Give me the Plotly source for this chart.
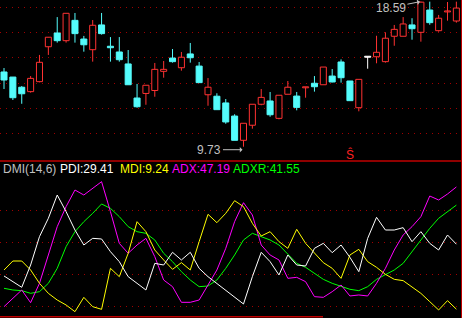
import plotly.graph_objects as go

# ---------------- data ----------------
idx = list(range(52))
opens = [14.29, 13.98, 13.36, 13.09, 13.70, 15.83, 16.67, 16.20, 17.44, 16.30,
         15.65, 17.16, 15.86, 15.51, 14.78, 12.70, 12.98, 13.16, 14.33, 15.14,
         14.55, 15.39, 14.65, 12.90, 12.81, 12.40, 11.60, 10.12, 11.04, 12.32,
         12.52, 11.46, 12.93, 12.82, 13.35, 13.60, 13.51, 14.04, 14.90, 13.74,
         12.11, 15.22, 15.22, 14.92, 16.47, 16.47, 17.16, 16.71, 18.07, 16.81,
         17.98, 17.40]
highs = [14.53, 13.98, 13.43, 14.04, 15.33, 16.42, 17.64, 17.87, 17.89, 16.49,
         17.46, 17.89, 16.42, 16.42, 15.63, 13.56, 13.48, 14.84, 14.96, 15.69,
         15.51, 16.06, 14.90, 13.92, 12.99, 12.64, 11.71, 11.16, 12.32, 13.25,
         13.07, 12.87, 13.74, 13.07, 13.36, 14.04, 14.59, 14.47, 15.06, 13.74,
         13.84, 15.22, 16.50, 16.71, 17.16, 17.64, 17.57, 18.59, 18.58, 17.77,
         18.56, 18.58]
lows = [13.25, 12.58, 12.35, 13.03, 13.66, 15.33, 16.08, 16.08, 16.08, 15.53,
        14.92, 16.57, 14.92, 14.92, 13.51, 12.11, 12.29, 12.78, 13.94, 14.86,
        14.37, 14.86, 13.64, 12.23, 11.99, 11.13, 10.12, 9.73, 10.83, 12.26,
        11.56, 11.40, 12.93, 11.95, 12.72, 13.09, 13.51, 13.66, 13.64, 12.54,
        11.89, 14.49, 14.82, 14.86, 15.89, 16.47, 16.26, 16.14, 17.17, 16.75,
        17.42, 17.30]
closes = [13.80, 12.72, 12.96, 13.90, 14.88, 16.41, 16.20, 17.87, 16.63, 15.95,
          17.14, 16.63, 15.77, 15.04, 13.51, 12.17, 13.48, 14.45, 14.45, 14.92,
          15.19, 15.16, 13.64, 13.36, 11.99, 11.24, 10.12, 11.16, 12.32, 12.74,
          11.68, 12.87, 13.36, 12.13, 13.36, 13.39, 14.59, 13.68, 13.94, 12.54,
          13.84, 15.22, 15.49, 16.35, 16.89, 17.22, 16.93, 18.55, 17.30, 17.57,
          17.99, 18.19]

pdi = [19.54, 17.78, 16.02, 22.95, 31.75, 37.45, 44.69, 39.52, 33.82, 29.16,
       31.23, 31.03, 27.09, 23.99, 19.33, 17.26, 15.19, 23.47, 22.95, 26.89,
       24.51, 26.89, 21.92, 19.33, 17.26, 15.19, 13.12, 10.84, 19.33, 26.89,
       23.99, 19.85, 26.06, 22.95, 22.64, 28.13, 29.68, 26.78, 29.16, 25.33,
       20.88, 31.23, 37.76, 33.82, 33.82, 34.55, 30.20, 33.30, 29.68, 27.61,
       32.27, 29.41]
mdi = [21.40, 24.19, 24.19, 21.40, 17.26, 14.15, 12.08, 10.53, 8.46, 12.91,
       10.01, 9.18, 21.92, 19.33, 26.58, 36.41, 33.30, 27.61, 24.51, 21.61,
       23.68, 21.40, 30.20, 38.69, 36.10, 39.00, 42.93, 41.07, 35.89, 31.96,
       33.30, 30.20, 28.13, 34.03, 29.68, 26.58, 23.68, 21.92, 18.81, 26.06,
       27.82, 23.99, 22.23, 20.05, 18.50, 18.09, 16.22, 14.15, 11.57, 8.98,
       11.88, 9.24]
adx = [10.01, 12.60, 15.19, 11.25, 17.26, 26.06, 34.86, 41.07, 46.24, 44.69,
       46.76, 48.83, 39.52, 29.68, 26.58, 29.16, 31.23, 25.54, 18.29, 16.22,
       11.36, 11.36, 12.08, 16.74, 21.40, 28.13, 36.41, 42.31, 38.48, 29.16,
       26.06, 24.51, 18.81, 19.12, 17.78, 13.12, 12.91, 14.67, 16.74, 13.33,
       13.64, 13.33, 17.26, 21.92, 27.61, 32.27, 34.86, 37.96, 44.38, 43.14,
       45.00, 47.19]
adxr = [15.71, 15.19, 14.98, 14.15, 14.67, 17.26, 21.92, 28.65, 33.30, 36.41,
        39.00, 41.90, 40.55, 37.96, 34.86, 33.30, 32.79, 30.72, 26.58, 23.99,
        20.88, 18.29, 16.22, 16.43, 18.29, 21.92, 26.06, 30.72, 32.79, 31.75,
        30.72, 29.16, 26.37, 23.47, 22.23, 20.36, 18.50, 17.26, 16.43, 15.40,
        14.98, 16.22, 18.50, 19.85, 21.40, 23.47, 27.09, 30.72, 34.34, 37.45,
        39.52, 41.55]

dmi_grid = [10, 20, 30, 40]
label_items = [("DMI(14,6)", "#c0c0c0"), ("PDI:29.41", "#ffffff"),
               ("MDI:9.24", "#ffff00"), ("ADX:47.19", "#ff00ff"),
               ("ADXR:41.55", "#00ff00")]
low_label = "9.73"
high_label = "18.59"

# ---------------- styling / layout constants ----------------
W, H = 462, 318
SPLIT = 161  # px from top where the two panels meet
UP, DN, FLAT = "#ff3232", "#54fcfc", "#ffffff"
GRID = "#a00000"
BORDER = "#c00000"
FONT = "Liberation Sans, Arial, sans-serif"

# price axis: pixel->price mapping of top panel
px_per_unit = 1 / 0.06102
top_price = 18.682
def price_at(px):
    return top_price - px / px_per_unit
top_range = [price_at(SPLIT), price_at(0)]
top_grid = [price_at(p) for p in (7.3, 32.3, 57.3, 83.0, 108.3, 133.3)]

# dmi axis
dmi_range = [(338.9 - H) / 3.22, (338.9 - SPLIT) / 3.22]

x_range = [-4 / 8.87, (W - 4) / 8.87]

colors = [UP if c > o else DN if c < o else FLAT for o, c in zip(opens, closes)]

fig = go.Figure()

# wicks
for col in (UP, DN, FLAT):
    xs, ys = [], []
    for i, (o, h, l, c) in enumerate(zip(opens, highs, lows, closes)):
        if colors[i] != col:
            continue
        top, bot = max(o, c), min(o, c)
        if h > top:
            xs += [i, i, None]; ys += [top, h, None]
        if l < bot:
            xs += [i, i, None]; ys += [bot, l, None]
    fig.add_trace(go.Scatter(x=xs, y=ys, mode="lines", yaxis="y",
                             line=dict(color=col, width=1), hoverinfo="skip"))

# bodies
MINH = 0.06
fills = {UP: "#000000", DN: DN, FLAT: FLAT}
for col in (UP, DN, FLAT):
    bx, bb, bh = [], [], []
    for i, (o, c) in enumerate(zip(opens, closes)):
        if colors[i] != col:
            continue
        d = abs(c - o)
        if d < MINH:
            bb.append((o + c) / 2 - MINH / 2); bh.append(MINH)
        else:
            bb.append(min(o, c)); bh.append(d)
        bx.append(i)
    fig.add_trace(go.Bar(x=bx, y=bh, base=bb, width=0.68, yaxis="y",
                         marker=dict(color=fills[col], line=dict(color=col, width=1)),
                         hoverinfo="skip"))

# DMI lines
for series, col in ((adxr, "#00ff00"), (adx, "#ff00ff"), (mdi, "#ffff00"), (pdi, "#ffffff")):
    fig.add_trace(go.Scatter(x=idx, y=series, mode="lines", yaxis="y2",
                             line=dict(color=col, width=1), hoverinfo="skip"))

split_paper = 1 - SPLIT / H

fig.update_layout(
    width=W, height=H, autosize=False,
    margin=dict(l=0, r=0, t=0, b=0, pad=0),
    paper_bgcolor="black", plot_bgcolor="black",
    barmode="overlay", showlegend=False,
    xaxis=dict(range=x_range, showgrid=False, zeroline=False, showticklabels=False,
               ticks="", showline=False, fixedrange=True),
    yaxis=dict(domain=[split_paper, 1], range=top_range, tickvals=top_grid,
               showticklabels=False, ticks="", gridcolor=GRID, gridwidth=1,
               griddash="1px,5px", zeroline=False, showline=False),
    yaxis2=dict(domain=[0, split_paper], range=dmi_range, tickvals=dmi_grid,
                showticklabels=False, ticks="", gridcolor=GRID, gridwidth=1,
                griddash="1px,5px", zeroline=False, showline=False),
)

# borders
fig.add_shape(type="line", xref="paper", yref="paper", x0=0, x1=1,
              y0=split_paper, y1=split_paper, line=dict(color=BORDER, width=1.5))
fig.add_shape(type="line", xref="paper", yref="paper", x0=461.5 / W, x1=461.5 / W,
              y0=0, y1=1, line=dict(color=BORDER, width=1))
fig.add_shape(type="line", xref="paper", yref="paper", x0=0, x1=323 / W,
              y0=1 - 316.8 / H, y1=1 - 316.8 / H, line=dict(color=BORDER, width=1.5))

# DMI header labels
label_x = [1, 58, 118, 170, 231]
for (txt, col), lx in zip(label_items, label_x):
    fig.add_annotation(text=txt, xref="paper", yref="paper", x=lx / W, y=1 - 168.5 / H,
                       xanchor="left", yanchor="middle", showarrow=False,
                       font=dict(family=FONT, size=12, color=col))

# low / high markers
low_i = lows.index(min(lows))
fig.add_annotation(text=low_label, x=low_i, y=lows[low_i], xref="x", yref="y",
                   showarrow=True, ax=-34, ay=0, yshift=-3, arrowhead=1, arrowsize=0.9,
                   arrowwidth=1, arrowcolor="#c0c0c0", standoff=1,
                   font=dict(family=FONT, size=12, color="#c0c0c0"))
high_i = highs.index(max(highs))
fig.add_annotation(text=high_label, x=high_i, y=highs[high_i], xref="x", yref="y",
                   showarrow=True, ax=-30, ay=6, arrowhead=1, arrowsize=0.9,
                   arrowwidth=1, arrowcolor="#c0c0c0", standoff=1,
                   font=dict(family=FONT, size=12, color="#c0c0c0"))
fig.add_annotation(text="Ŝ", x=39, y=price_at(154.5), xref="x", yref="y",
                   showarrow=False, font=dict(family=FONT, size=12, color="#ff2020"))

fig.write_html("out.html", config={"displayModeBar": False})
